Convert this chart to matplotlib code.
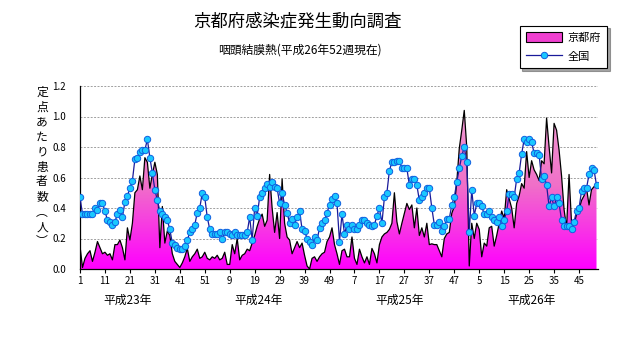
import numpy as np
import matplotlib
matplotlib.use("Agg")
import matplotlib.pyplot as plt
from matplotlib.patches import Patch
from matplotlib.lines import Line2D
from matplotlib.colors import LinearSegmentedColormap
from matplotlib.transforms import blended_transform_factory

plt.rcParams['font.family'] = ['Noto Sans CJK JP', 'DejaVu Sans']

# 京都府 (per sentinel), weekly 2011 w1 .. 2014 w52
kyoto = [
    0.15, 0.01, 0.07, 0.10, 0.12, 0.05, 0.11, 0.18, 0.14, 0.10,
    0.11, 0.09, 0.10, 0.06, 0.16, 0.16, 0.19, 0.14, 0.06, 0.27,
    0.19, 0.30, 0.50, 0.52, 0.61, 0.52, 0.73, 0.70, 0.53, 0.62,
    0.70, 0.62, 0.14, 0.41, 0.17, 0.25, 0.22, 0.10, 0.05, 0.03,
    0.01, 0.04, 0.08, 0.135, 0.05, 0.08, 0.10, 0.13, 0.07, 0.08,
    0.11, 0.07, 0.06, 0.08, 0.07, 0.09, 0.06, 0.07, 0.11, 0.03,
    0.03, 0.16, 0.10, 0.20, 0.06, 0.09, 0.10, 0.13, 0.12, 0.17,
    0.22, 0.28, 0.33, 0.36, 0.28, 0.32, 0.62, 0.40, 0.24, 0.37,
    0.20, 0.59, 0.30, 0.21, 0.19, 0.10, 0.14, 0.18, 0.14, 0.17,
    0.09, 0.02, 0.00, 0.07, 0.08, 0.05, 0.08, 0.10, 0.11, 0.18,
    0.21, 0.27, 0.16, 0.10, 0.03, 0.12, 0.13, 0.08, 0.08, 0.21,
    0.07, 0.03, 0.13, 0.08, 0.04, 0.08, 0.03, 0.135, 0.10, 0.04,
    0.16, 0.21, 0.23, 0.24, 0.26, 0.30, 0.50, 0.31, 0.23, 0.30,
    0.365, 0.43, 0.39, 0.42, 0.27, 0.40, 0.22, 0.27, 0.21, 0.30,
    0.16, 0.165, 0.16, 0.16, 0.12, 0.08, 0.20, 0.23, 0.24, 0.365,
    0.41, 0.57, 0.79, 0.91, 1.04, 0.80, 0.02, 0.30, 0.20, 0.30,
    0.26, 0.08, 0.17, 0.15, 0.27, 0.28, 0.15, 0.22, 0.30, 0.38,
    0.33, 0.52, 0.46, 0.40, 0.27, 0.43, 0.48, 0.56, 0.53, 0.77,
    0.60, 0.71, 0.65, 0.62, 0.58, 0.71, 0.69, 0.99, 0.80, 0.63,
    0.955, 0.91, 0.78, 0.61, 0.39, 0.27, 0.62, 0.30, 0.29, 0.36,
    0.39, 0.45, 0.48, 0.53, 0.42, 0.52, 0.54, 0.54,
]

# 全国
zenkoku = [
    0.47, 0.36, 0.36, 0.36, 0.36, 0.36, 0.40, 0.39, 0.43, 0.43,
    0.38, 0.32, 0.31, 0.29, 0.31, 0.36, 0.39, 0.34, 0.44, 0.48,
    0.53, 0.58, 0.72, 0.73, 0.77, 0.78, 0.78, 0.85, 0.73, 0.63,
    0.52, 0.45, 0.38, 0.36, 0.34, 0.32, 0.26, 0.17, 0.16, 0.14,
    0.13, 0.13, 0.15, 0.19, 0.24, 0.26, 0.29, 0.37, 0.40, 0.50,
    0.47, 0.34, 0.26, 0.23, 0.23, 0.23, 0.24, 0.20, 0.24, 0.24,
    0.23, 0.22, 0.24, 0.22, 0.22, 0.22, 0.22, 0.24, 0.34, 0.19,
    0.40, 0.35, 0.47, 0.50, 0.53, 0.56, 0.54, 0.57, 0.54, 0.53,
    0.43, 0.50, 0.42, 0.37, 0.30, 0.33, 0.29, 0.34, 0.38, 0.26,
    0.25, 0.20, 0.18, 0.16, 0.21, 0.19, 0.27, 0.30, 0.32, 0.37,
    0.42, 0.46, 0.48, 0.43, 0.18, 0.36, 0.23, 0.29, 0.26, 0.29,
    0.26, 0.26, 0.29, 0.32, 0.32, 0.30, 0.29, 0.28, 0.29, 0.35,
    0.40, 0.30, 0.47, 0.50, 0.645, 0.70, 0.70, 0.71, 0.71, 0.66,
    0.66, 0.66, 0.55, 0.59, 0.59, 0.55, 0.45, 0.47, 0.50, 0.53,
    0.53, 0.40, 0.29, 0.29, 0.31, 0.25, 0.28, 0.33, 0.33, 0.42,
    0.47, 0.57, 0.66, 0.74, 0.80, 0.70, 0.24, 0.52, 0.35, 0.43,
    0.43, 0.41, 0.36, 0.36, 0.38, 0.34, 0.32, 0.31, 0.34, 0.28,
    0.32, 0.38, 0.49, 0.49, 0.47, 0.59, 0.63, 0.755, 0.85, 0.83,
    0.85, 0.83, 0.76, 0.76, 0.75, 0.59, 0.61, 0.55, 0.41, 0.47,
    0.41, 0.47, 0.43, 0.32, 0.28, 0.28, 0.28, 0.26, 0.31, 0.38,
    0.40, 0.51, 0.53, 0.53, 0.62, 0.66, 0.65, 0.55,
]

tick_labels = ["1", "11", "21", "31", "41", "51", "9", "19", "29", "39", "49",
               "7", "17", "27", "37", "47", "5", "15", "25", "35", "45"]
year_labels = ["平成23年", "平成24年", "平成25年", "平成26年"]
year_label_pos = [19, 71.5, 128, 181]
y_ticks = [0.0, 0.2, 0.4, 0.6, 0.8, 1.0, 1.2]

title = "京都府感染症発生動向調査"
subtitle = "咽頭結膜熱(平成26年52週現在)"
ylabel = "定点あたり患者数︵人︶"

x = np.arange(len(kyoto))
kyoto = np.array(kyoto)
zenkoku = np.array(zenkoku)

W, H = 631, 347
fig = plt.figure(figsize=(W / 100, H / 100), dpi=100)
ax = fig.add_axes([80 / W, 1 - 269 / H, (598 - 80) / W, (269 - 86) / H])

# gradient-filled area for 京都府
cmap = LinearSegmentedColormap.from_list("pk", ["#FF00FF", "#F070C8", "#F0A0D4"])
poly = ax.fill_between(x, kyoto, 0, color="none", lw=0)
grad = np.linspace(0, 1, 256).reshape(-1, 1)
img = ax.imshow(grad, cmap=cmap, extent=[x[0], x[-1], 0, 1.1],
                aspect="auto", origin="lower", zorder=2)
img.set_clip_path(poly.get_paths()[0], transform=ax.transData)
ax.plot(x, kyoto, color="black", lw=0.9, zorder=3)

# 全国
ax.plot(x, zenkoku, color="#1a1a9a", lw=0.9, marker="o", markersize=4.6,
        markerfacecolor="#19c8ff", markeredgecolor="#1060e0", markeredgewidth=0.7,
        zorder=4)

ax.set_xlim(0, 207.6)
ax.set_ylim(0, 1.2)
ax.set_yticks(y_ticks)
ax.set_yticklabels([f"{v:.1f}" for v in y_ticks], fontsize=7)
ax.set_xticks(np.arange(0, 201, 10))
ax.set_xticklabels(tick_labels, fontsize=7)
ax.tick_params(axis="y", length=0, pad=10)
ax.tick_params(axis="x", length=3, width=0.8, direction="out", pad=2)
for yv in y_ticks[1:]:
    ax.axhline(yv, color="#a0a0a0", lw=0.7, ls=(0, (2, 1.5)), zorder=1)
ax.spines["top"].set_visible(False)
ax.spines["right"].set_visible(False)
ax.spines["left"].set_linewidth(0.9)
ax.spines["bottom"].set_linewidth(0.9)

trans = blended_transform_factory(ax.transData, fig.transFigure)
for lbl, pos in zip(year_labels, year_label_pos):
    ax.text(pos, 1 - 300 / H, lbl, transform=trans, ha="center", va="center",
            fontsize=8.5)

fig.text(297 / W, 1 - 22 / H, title, ha="center", va="center", fontsize=12.5)
fig.text(300 / W, 1 - 50 / H, subtitle, ha="center", va="center", fontsize=8.5)
fig.text(42 / W, 1 - 167 / H, "\n".join(ylabel), ha="center", va="center",
         fontsize=8.5, linespacing=1.2)

handles = [
    Patch(facecolor="#F040D0", edgecolor="black", lw=0.8),
    Line2D([], [], color="#1a1a9a", lw=0.9, marker="o", markersize=4.6,
           markerfacecolor="#19c8ff", markeredgecolor="#1060e0", markeredgewidth=0.7),
]
leg = fig.legend(handles, ["京都府", "全国"], loc="upper right",
                 bbox_to_anchor=(613 / W, 1 - 20 / H), fontsize=8,
                 frameon=True, fancybox=False, shadow=True, borderpad=0.6,
                 handlelength=3.2, handleheight=1.0, handletextpad=0.5,
                 labelspacing=0.7)
leg.get_frame().set_edgecolor("black")
leg.get_frame().set_linewidth(0.8)

fig.savefig("out.png", dpi=100)
